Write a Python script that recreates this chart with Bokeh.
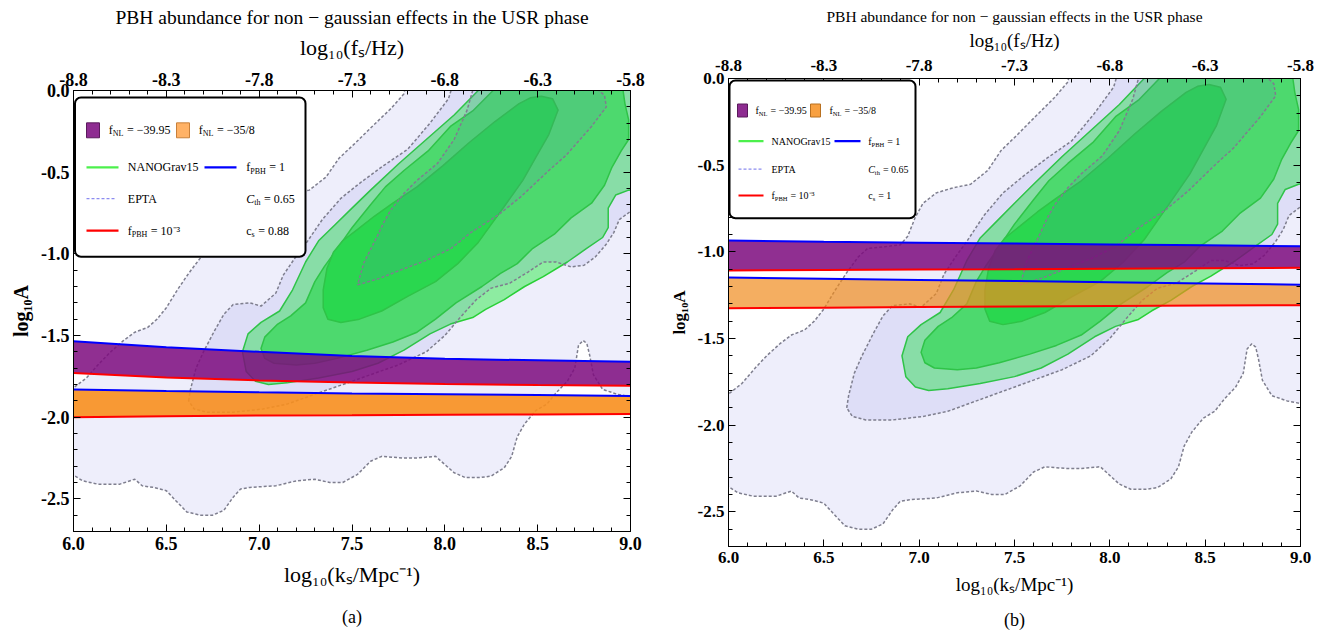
from bokeh.plotting import figure
from bokeh.layouts import row, column
from bokeh.models import (Range1d, LinearAxis, FixedTicker, PrintfTickFormatter,
                          CustomJSTickFormatter, Title, BoxAnnotation, Label, Arrow)
from bokeh.embed import file_html
from bokeh.resources import INLINE

# ---------------- data ----------------
K_MIN, K_MAX = 6.0, 9.0
A_MIN, A_MAX = -2.7, 0.0
BOTTOM_TICKS = [6.0, 6.5, 7.0, 7.5, 8.0, 8.5, 9.0]
TOP_TICKS = [-8.8, -8.3, -7.8, -7.3, -6.8, -6.3, -5.8]
LEFT_TICKS = [-2.5, -2.0, -1.5, -1.0, -0.5, 0.0]

TITLE = "PBH abundance for non \u2212 gaussian effects in the USR phase"
X_LABEL = "log\u2081\u2080(k\u209b/Mpc\u207b\u00b9)"
TOP_LABEL = "log\u2081\u2080(f\u209b/Hz)"
Y_LABEL = "log\u2081\u2080A"

# EPTA credible regions (outer, middle, inner)
EPTA1_K = [5.9, 6.0, 6.07, 6.14, 6.20, 6.27, 6.33, 6.40, 6.45, 6.50, 6.56, 6.62, 6.68, 6.73, 6.82,
           6.90, 6.94, 6.98, 7.02, 7.09, 7.18, 7.27, 7.36, 7.43, 7.51, 7.60, 7.71, 7.78, 7.80,
           9.1, 9.1, 9.0, 8.93, 8.85, 8.80, 8.78, 8.765, 8.745, 8.72, 8.70, 8.66, 8.60, 8.55,
           8.49, 8.43, 8.39, 8.36, 8.32, 8.25, 8.19, 8.11, 8.05, 8.00, 7.95, 7.85, 7.77, 7.66,
           7.60, 7.53, 7.45, 7.38, 7.30, 7.20, 7.09, 6.95, 6.90, 6.86, 6.81, 6.75, 6.68, 6.61,
           6.55, 6.50, 6.43, 6.37, 6.33, 6.25, 6.13, 6.05, 6.0, 5.9]
EPTA1_A = [-1.82, -1.82, -1.76, -1.67, -1.60, -1.53, -1.48, -1.45, -1.40, -1.33, -1.22, -1.12,
           -1.03, -0.98, -0.97, -0.96, -0.91, -0.80, -0.72, -0.66, -0.63, -0.61, -0.53, -0.415,
           -0.33, -0.23, -0.11, -0.02, 0.1,
           0.1, -1.875, -1.875, -1.86, -1.83, -1.74, -1.62, -1.55, -1.53, -1.56, -1.70, -1.78,
           -1.85, -1.92, -1.96, -2.04, -2.12, -2.24, -2.31, -2.36, -2.37, -2.37, -2.34, -2.29,
           -2.24, -2.25, -2.25, -2.24, -2.27, -2.35, -2.40, -2.40, -2.38, -2.39, -2.42, -2.43,
           -2.44, -2.49, -2.57, -2.60, -2.60, -2.58, -2.51, -2.45, -2.43, -2.42, -2.38, -2.41,
           -2.41, -2.39, -2.355, -2.355]

EPTA2_K = [6.62, 6.63, 6.66, 6.70, 6.76, 6.81, 6.86, 6.95, 7.01, 7.09, 7.13, 7.19, 7.25, 7.34,
           7.44, 7.55, 7.67, 7.80, 7.92, 8.02, 8.06, 9.1, 9.1, 9.0, 8.94, 8.91, 8.87, 8.81,
           8.75, 8.68, 8.60, 8.53, 8.45, 8.35, 8.25, 8.17, 8.09, 8.00, 7.90, 7.75, 7.60, 7.45,
           7.30, 7.15, 7.02, 6.86, 6.72, 6.65]
EPTA2_A = [-1.90, -1.83, -1.70, -1.60, -1.47, -1.37, -1.31, -1.30, -1.32, -1.24, -1.13, -1.03,
           -0.94, -0.79, -0.66, -0.56, -0.46, -0.36, -0.20, -0.05, 0.1, 0.1, -0.74, -0.74, -0.79,
           -0.87, -0.94, -1.02, -1.07, -1.08, -1.05, -1.05, -1.11, -1.18, -1.21, -1.28, -1.38,
           -1.50, -1.60, -1.68, -1.74, -1.80, -1.86, -1.92, -1.95, -1.97, -1.97, -1.95]

EPTA3_K = [7.53, 7.65, 7.76, 7.90, 8.03, 8.14, 8.29, 8.41, 8.56, 8.65, 8.79, 8.87, 8.86, 8.83,
           8.80, 8.15, 8.15, 8.12, 8.05, 7.96, 7.85, 7.78, 7.71, 7.67, 7.635, 7.563]
EPTA3_A = [-1.19, -1.15, -1.10, -1.04, -0.97, -0.87, -0.76, -0.65, -0.49, -0.40, -0.22, -0.10,
           -0.03, 0.0, 0.1, 0.1, 0.0, -0.12, -0.30, -0.447, -0.55, -0.63, -0.73, -0.81, -0.894,
           -1.057]

# NANOGrav15 credible regions (outer, middle, inner)
NG1_K = [8.20, 8.18, 8.05, 7.90, 7.75, 7.60, 7.50, 7.41, 7.32, 7.25, 7.18, 7.11, 7.01, 6.94,
         6.91, 6.93, 6.98, 7.05, 7.15, 7.32, 7.50, 7.64, 7.78, 7.92, 8.03, 8.15, 8.22, 8.32,
         8.43, 8.53, 8.66, 8.76, 8.85, 8.88, 8.88, 8.92, 8.99, 9.1, 9.1]
NG1_A = [0.1, 0.0, -0.15, -0.30, -0.45, -0.61, -0.72, -0.82, -0.92, -1.05, -1.22, -1.35, -1.42,
         -1.49, -1.60, -1.72, -1.78, -1.80, -1.79, -1.76, -1.72, -1.67, -1.59, -1.49, -1.43,
         -1.39, -1.34, -1.28, -1.20, -1.14, -1.05, -0.97, -0.90, -0.84, -0.72, -0.64, -0.61,
         -0.60, 0.1]

NG2_K = [8.28, 8.26, 8.15, 8.03, 7.91, 7.78, 7.68, 7.60, 7.50, 7.42, 7.35, 7.30, 7.25, 7.17,
         7.10, 7.03, 7.01, 7.03, 7.08, 7.20, 7.30, 7.42, 7.58, 7.72, 7.85, 7.95, 8.06, 8.20,
         8.30, 8.39, 8.47, 8.59, 8.68, 8.79, 8.86, 8.90, 8.95, 8.99, 8.99, 8.97, 8.96, 8.95]
NG2_A = [0.1, 0.0, -0.125, -0.22, -0.37, -0.49, -0.59, -0.70, -0.84, -0.97, -1.08, -1.17, -1.30,
         -1.38, -1.43, -1.51, -1.58, -1.64, -1.67, -1.68, -1.67, -1.64, -1.59, -1.54, -1.48,
         -1.40, -1.30, -1.20, -1.12, -1.06, -0.97, -0.88, -0.78, -0.69, -0.58, -0.47, -0.37,
         -0.30, -0.18, -0.08, 0.0, 0.1]

NG3_K = [8.52, 8.58, 8.61, 8.56, 8.49, 8.42, 8.32, 8.25, 8.18, 8.07, 7.95, 7.80, 7.66, 7.54,
         7.44, 7.37, 7.345, 7.345, 7.365, 7.40, 7.45, 7.53, 7.62, 7.72, 7.85, 7.99, 8.13, 8.27,
         8.40, 8.46]
NG3_A = [-0.035, -0.05, -0.12, -0.27, -0.41, -0.55, -0.71, -0.82, -0.93, -1.06, -1.17, -1.26,
         -1.35, -1.40, -1.42, -1.40, -1.33, -1.22, -1.09, -0.99, -0.92, -0.85, -0.77, -0.69,
         -0.59, -0.46, -0.32, -0.19, -0.08, -0.045]

# PBH abundance bands: k grid, f_PBH = 1 (upper) and f_PBH = 1e-3 (lower) edges
K_BAND = [6.0, 6.5, 7.0, 7.5, 8.0, 8.5, 9.0]
# panel (a): c_s = 0.88
A_NL1_TOP_A = [-1.535, -1.572, -1.600, -1.625, -1.643, -1.652, -1.660]
A_NL1_BOT_A = [-1.730, -1.757, -1.775, -1.788, -1.797, -1.803, -1.808]
A_NL2_TOP_A = [-1.830, -1.840, -1.848, -1.855, -1.860, -1.865, -1.870]
A_NL2_BOT_A = [-2.000, -1.995, -1.990, -1.988, -1.985, -1.983, -1.980]
# panel (b): c_s = 1
A_NL1_TOP_B = [-0.935, -0.942, -0.947, -0.952, -0.957, -0.962, -0.968]
A_NL1_BOT_B = [-1.108, -1.105, -1.102, -1.100, -1.097, -1.094, -1.092]
A_NL2_TOP_B = [-1.148, -1.155, -1.162, -1.168, -1.175, -1.182, -1.190]
A_NL2_BOT_B = [-1.325, -1.322, -1.318, -1.315, -1.312, -1.310, -1.308]

NB = "\u00a0"
FNL1_TEXT = NB + "=" + NB + "\u221239.95"
FNL2_TEXT = NB + "=" + NB + "\u221235/8"
CTH_TEXT = NB + "=" + NB + "0.65"
CS_A_TEXT = NB + "=" + NB + "0.88"
CS_B_TEXT = NB + "=" + NB + "1"
FPBH1_TEXT = NB + "=" + NB + "1"
FPBH3_TEXT = NB + "=" + NB + "10\u207b\u00b3"

# ---------------- styling ----------------
SERIF = "Liberation Serif"
NARROW = "Liberation Sans Narrow"
EPTA_FILL = "#6464DC"
EPTA_LINE = "#7E7E8E"
GREEN_LINE = "#22DD22"

TW = {"f": .333, "N": .722, "L": .611, "P": .556, "B": .667, "H": .722, "t": .278, "h": .5,
      "s": .389, "c": .444, "C": .667, " ": .25, NB: .25, "=": .564, "\u2212": .564, ".": .25,
      "/": .278, "E": .611, "T": .611, "A": .722, "G": .722, "O": .722, "r": .333, "a": .444,
      "v": .5}


def text_w(txt, size):
    return sum(TW.get(ch, 0.5) for ch in txt) * size


def minors(major, step=0.1):
    lo, hi = min(major), max(major)
    out = []
    n = int(round((hi - lo) / step))
    for i in range(n + 1):
        v = round(lo + i * step, 3)
        if all(abs(v - m) > 1e-6 for m in major):
            out.append(v)
    return out


def style_axis(ax, tick_fs, label_fs, bold_label=False, lab_sep=4, ax_sep=8):
    ax.major_tick_in = 7
    ax.major_tick_out = 0
    ax.minor_tick_in = 4
    ax.minor_tick_out = 0
    ax.axis_line_color = "black"
    ax.major_tick_line_color = "black"
    ax.minor_tick_line_color = "black"
    ax.major_label_text_font = NARROW
    ax.major_label_text_font_style = "bold"
    ax.major_label_text_font_size = tick_fs
    ax.major_label_text_color = "black"
    ax.major_label_standoff = lab_sep
    ax.axis_label_text_font = SERIF
    ax.axis_label_text_font_style = "bold" if bold_label else "normal"
    ax.axis_label_text_font_size = label_fs
    ax.axis_label_text_color = "black"
    ax.axis_label_standoff = ax_sep


def make_panel(W, H, mb, fonts, bands, orange_alpha, orange_fill, leg, caption, cs_text):
    p = figure(width=W, height=H, x_range=Range1d(K_MIN, K_MAX), y_range=Range1d(A_MIN, A_MAX),
               output_backend="svg", toolbar_location=None,
               min_border_left=mb[0], min_border_right=mb[1], min_border_top=mb[2],
               min_border_bottom=mb[3], background_fill_color="white", border_fill_color="white")
    p.grid.visible = False
    p.outline_line_color = "black"
    p.outline_line_width = 1

    xa = p.xaxis[0]
    xa.ticker = FixedTicker(ticks=BOTTOM_TICKS, minor_ticks=minors(BOTTOM_TICKS))
    xa.formatter = PrintfTickFormatter(format="%.1f")
    xa.axis_label = X_LABEL
    style_axis(xa, fonts["tick"], fonts["xlabel"], lab_sep=5, ax_sep=fonts["xsep"])

    ya = p.yaxis[0]
    ya.ticker = FixedTicker(ticks=LEFT_TICKS, minor_ticks=minors([-2.7] + LEFT_TICKS))
    ya.formatter = PrintfTickFormatter(format="%.1f")
    ya.axis_label = Y_LABEL
    style_axis(ya, fonts["tick"], fonts["ylabel"], bold_label=True, lab_sep=4, ax_sep=6)

    p.extra_x_ranges = {"fs": Range1d(TOP_TICKS[0], TOP_TICKS[-1])}
    ta = LinearAxis(x_range_name="fs", axis_label=TOP_LABEL,
                    ticker=FixedTicker(ticks=TOP_TICKS, minor_ticks=minors(TOP_TICKS)),
                    formatter=PrintfTickFormatter(format="%.1f"))
    style_axis(ta, fonts["tick"], fonts["xlabel"], lab_sep=fonts["top_lab_sep"], ax_sep=fonts["top_ax_sep"])
    p.add_layout(ta, "above")
    p.add_layout(Title(text=TITLE, align="center", text_font=SERIF, text_font_style="normal",
                       text_font_size=fonts["title"], text_color="black",
                       standoff=fonts["title_sep"]), "above")

    ra = LinearAxis(ticker=FixedTicker(ticks=LEFT_TICKS, minor_ticks=minors([-2.7] + LEFT_TICKS)),
                    formatter=CustomJSTickFormatter(code="return ''"))
    style_axis(ra, "10px", "10px")
    ra.major_label_standoff = 0
    p.add_layout(ra, "right")

    p.add_layout(Title(text=caption, align="center", text_font=SERIF, text_font_style="normal",
                       text_font_size=fonts["caption"], text_color="black",
                       standoff=fonts["cap_sep"]), "below")

    # NANOGrav15 regions
    for kk, aa, col in [(NG1_K, NG1_A, "#92FD9A"), (NG2_K, NG2_A, "#48F953"), (NG3_K, NG3_A, "#1BF72B")]:
        p.patch(kk, aa, fill_color=col, fill_alpha=1.0, line_color=GREEN_LINE, line_width=1.5)
    # EPTA regions (translucent, dotted outlines)
    for kk, aa in [(EPTA1_K, EPTA1_A), (EPTA2_K, EPTA2_A), (EPTA3_K, EPTA3_A)]:
        p.patch(kk, aa, fill_color=EPTA_FILL, fill_alpha=0.11, line_color=EPTA_LINE,
                line_width=1.5, line_dash="3 2")

    # PBH bands
    t1, b1, t2, b2 = bands
    p.varea(x=K_BAND, y1=b1, y2=t1, fill_color="#7D0A7E", fill_alpha=0.85)
    p.varea(x=K_BAND, y1=b2, y2=t2, fill_color=orange_fill, fill_alpha=orange_alpha)
    for yy, col in [(t1, "#0000FF"), (b1, "#FF0000"), (t2, "#0000FF"), (b2, "#FF0000")]:
        p.line(K_BAND, yy, line_color=col, line_width=2)

    # legend (positions given in frame pixels)
    fw, fh = leg["fw"], leg["fh"]

    def X(dx):
        return K_MIN + dx / fw * (K_MAX - K_MIN)

    def Y(dy):
        return A_MAX - dy / fh * (A_MAX - A_MIN)

    bl, bt, br, bb = leg["box"]
    p.add_layout(BoxAnnotation(left=X(bl), right=X(br), top=Y(bt), bottom=Y(bb),
                               fill_color="white", fill_alpha=1.0, line_color="black",
                               line_alpha=1.0, line_width=2, border_radius=6))
    fs, sfs = leg["fs"], leg["sfs"]

    def rich(x0, yrow, parts):
        x = x0
        for txt, kind in parts:
            size = sfs if kind == "sub" else fs
            dy = fs * 0.3 if kind == "sub" else 0
            p.add_layout(Label(x=X(x), y=Y(yrow + dy), text=txt, text_font=SERIF,
                               text_font_size=f"{size}px",
                               text_font_style="italic" if kind == "it" else "normal",
                               text_baseline="middle", text_align="left", text_color="black"))
            x += text_w(txt, size) + (0.5 if kind == "sub" else 0)

    r1, r2, r3, r4 = leg["rows"]
    sw, sh = leg["sw"]
    for sx, col, edge in [(leg["c1"], "#8E2C91", "#5A1A5C"), (leg["c2sw"], leg["orange_sw"], leg["orange_edge"])]:
        p.add_layout(BoxAnnotation(left=X(sx), right=X(sx + sw), top=Y(r1 - sh / 2),
                                   bottom=Y(r1 + sh / 2), fill_color=col, fill_alpha=1.0,
                                   line_color=edge, line_alpha=1.0, line_width=1))
    rich(leg["t1a"], r1, [("f", "n"), ("NL", "sub"), (FNL1_TEXT, "n")])
    rich(leg["t1b"], r1, [("f", "n"), ("NL", "sub"), (FNL2_TEXT, "n")])

    l0, l1 = leg["l1"]
    m0, m1 = leg["l2"]
    for (x0, x1, yy, col, dash) in [(l0, l1, r2, "#4CF04C", "solid"), (m0, m1, r2, "#0000FF", "solid"),
                                    (l0, l1 - 2, r3, "#8C8CF0", "3 2"), (l0, l1, r4, "#FF0000", "solid")]:
        p.add_layout(Arrow(x_start=X(x0), x_end=X(x1), y_start=Y(yy), y_end=Y(yy), start=None, end=None,
                           line_color=col, line_width=2.2 if dash == "solid" else 1.3, line_dash=dash))
    rich(leg["t2"], r2, [("NANOGrav15", "n")])
    rich(leg["t3"], r2, [("f", "n"), ("PBH", "sub"), (FPBH1_TEXT, "n")])
    rich(leg["t2"], r3, [("EPTA", "n")])
    rich(leg["t3"], r3, [("C", "it"), ("th", "sub"), (CTH_TEXT, "n")])
    rich(leg["t2"], r4, [("f", "n"), ("PBH", "sub"), (FPBH3_TEXT, "n")])
    rich(leg["t3"], r4, [("c", "n"), ("s", "sub"), (cs_text, "n")])
    return p


LEG_A = dict(fw=557, fh=443, box=(1.5, 7, 232, 167), rows=(40, 77.3, 108.7, 140.7), sw=(13, 15),
             c1=13, c2sw=103, t1a=35.3, t1b=125.3, l1=(13, 45), l2=(131, 163), t2=54.3, t3=172.7,
             fs=12, sfs=8, orange_sw="#FFB266", orange_edge="#C8803A")
LEG_B = dict(fw=572, fh=468, box=(1, 2, 187, 139.7), rows=(32, 62.7, 90.7, 117), sw=(10, 13),
             c1=9, c2sw=82, t1a=27, t1b=101, l1=(10, 35), l2=(106, 132), t2=43, t3=139.7,
             fs=10, sfs=6.5, orange_sw="#F8A040", orange_edge="#B87020")

pa = make_panel(665, 641, (73, 35, 90, 108),
                dict(tick="18px", xlabel="22px", ylabel="20px", title="19.5px", caption="18px",
                     cap_sep=30, xsep=9, top_lab_sep=5, top_ax_sep=10, title_sep=7),
                (A_NL1_TOP_A, A_NL1_BOT_A, A_NL2_TOP_A, A_NL2_BOT_A), 0.9, "#F88F1E", LEG_A, "(a)", CS_A_TEXT)
pb = make_panel(678, 641, (63, 43, 78, 95),
                dict(tick="17px", xlabel="19px", ylabel="17px", title="15.5px", caption="18px",
                     cap_sep=20, xsep=8, top_lab_sep=8, top_ax_sep=6, title_sep=4),
                (A_NL1_TOP_B, A_NL1_BOT_B, A_NL2_TOP_B, A_NL2_BOT_B), 0.7, "#F08C1E", LEG_B, "(b)", CS_B_TEXT)

layout = row(column(pa), column(pb))
open("out.html", "w").write(file_html(layout, INLINE))
